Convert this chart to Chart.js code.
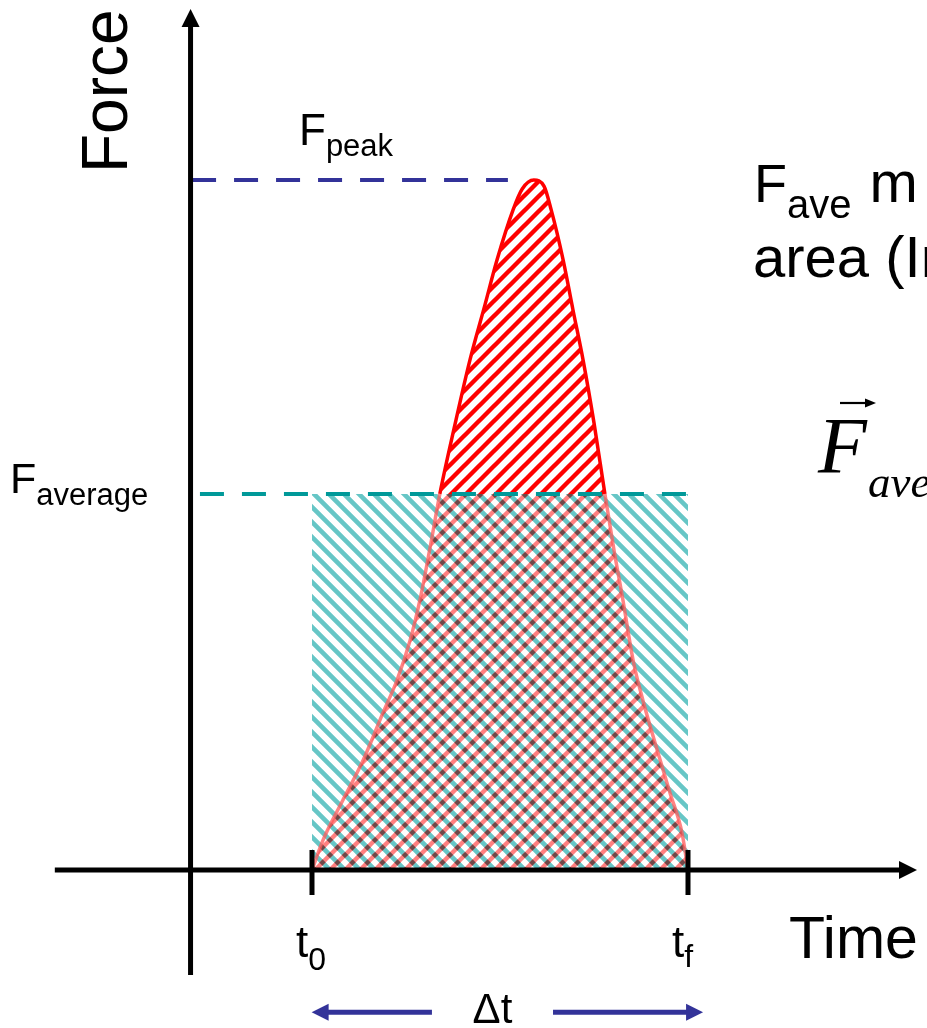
<!DOCTYPE html>
<html>
<head>
<meta charset="utf-8">
<script src="https://cdn.jsdelivr.net/npm/chart.js@4/dist/chart.umd.min.js"></script>
<style>
html,body{margin:0;padding:0;background:#fff;overflow:hidden;}
canvas{display:block;}
</style>
</head>
<body>
<canvas id="c" width="927" height="1028"></canvas>
<script>
// ---- data (time units: t0 = 0, tf = 10; force units: Fpeak = 10) ----
const t0 = 0;
const tf = 10;
const Fpeak = 10;
const Favg = 5.45;
const curveT = [0, 0.29, 0.82, 1.36, 1.89, 2.26, 2.61, 2.87, 3.14, 3.40, 3.80, 4.20, 4.60, 4.92, 5.35, 5.59, 5.90, 6.17, 6.36, 6.68, 6.94, 7.21, 7.50, 7.79, 8.03, 8.27, 8.54, 8.80, 9.18, 9.52, 9.84, 10];
const curveF = [0, 0.43, 1.01, 1.59, 2.28, 2.75, 3.33, 3.91, 4.67, 5.45, 6.45, 7.39, 8.19, 8.84, 9.57, 9.87, 10.0, 9.91, 9.57, 8.84, 8.12, 7.39, 6.48, 5.45, 4.64, 3.91, 3.04, 2.46, 1.74, 1.12, 0.54, 0];
const tickTimes = [t0, tf];
const tickLabels = ['t', 't'];
const tickSubs = ['0', 'f'];
const peakLineT = [-3.19, 5.21];
const avgLineT = [-2.98, 10.05];
const xAxisT = [-6.84, 16.09];
const yAxisT = -3.23;
const yAxisF = [-1.52, 12.48];
const dtArrowLeft = [3.19, -0.01];
const dtArrowRight = [6.41, 10.4];
const dtArrowF = -2.06;

// ---- hatch patterns ----
const S = 15;
function stripes(ctx, dir, color, w) {
  ctx.strokeStyle = color; ctx.lineWidth = w; ctx.lineCap = 'butt';
  ctx.beginPath();
  for (let k = -1; k <= 2; k++) {
    if (dir === 'b') { ctx.moveTo(-S, k * S - S); ctx.lineTo(2 * S, k * S + 2 * S); }
    else { ctx.moveTo(-S, k * S + S); ctx.lineTo(2 * S, k * S - 2 * S); }
  }
  ctx.stroke();
}
function tile() { const c = document.createElement('canvas'); c.width = S; c.height = S; return c; }
const main = document.getElementById('c').getContext('2d');
const tR = tile(); { const g = tR.getContext('2d'); g.fillStyle = '#fff'; g.fillRect(0,0,S,S); stripes(g, 'f', '#ff0000', 4.4); }
const tC = tile(); { const g = tC.getContext('2d'); g.fillStyle = '#fff'; g.fillRect(0,0,S,S); stripes(g, 'b', '#66c6c6', 4.6); }
const tX = tile(); {
  const g = tX.getContext('2d'); g.fillStyle = '#fff'; g.fillRect(0,0,S,S);
  stripes(g, 'b', '#66c6c6', 4.6);
  stripes(g, 'f', '#ff8080', 4.4);
  const d = tile(); const h = d.getContext('2d');
  stripes(h, 'b', '#000', 4.6);
  h.globalCompositeOperation = 'source-in';
  stripes(h, 'f', '#6e4848', 4.4);
  g.drawImage(d, 0, 0);
}
const redPat = main.createPattern(tR, 'repeat');
const cyanPat = main.createPattern(tC, 'repeat');
const crossPat = main.createPattern(tX, 'repeat');

const curveData = curveT.map((t, i) => ({x: t, y: curveF[i]}));

function arrowHead(ctx, x, y, dx, dy, len, half) {
  const L = Math.hypot(dx, dy); const ux = dx / L, uy = dy / L;
  ctx.beginPath();
  ctx.moveTo(x, y);
  ctx.lineTo(x - ux * len - uy * half, y - uy * len + ux * half);
  ctx.lineTo(x - ux * len + uy * half, y - uy * len - ux * half);
  ctx.closePath(); ctx.fill();
}
function subText(ctx, x, y, mainTxt, mainFont, sub, subFont, subY) {
  ctx.font = mainFont; ctx.fillText(mainTxt, x, y);
  const w = ctx.measureText(mainTxt).width;
  ctx.font = subFont; ctx.fillText(sub, x + w, subY);
  return x + w + ctx.measureText(sub).width;
}

const decor = {
  id: 'decor',
  afterDatasetsDraw(chart) {
    const ctx = chart.ctx, X = chart.scales.x, Y = chart.scales.y;
    const px = v => X.getPixelForValue(v), py = v => Y.getPixelForValue(v);
    ctx.save();
    ctx.fillStyle = '#000'; ctx.strokeStyle = '#000'; ctx.lineWidth = 5; ctx.lineCap = 'butt';
    const yx = px(yAxisT);
    ctx.beginPath(); ctx.moveTo(yx, py(yAxisF[0])); ctx.lineTo(yx, py(yAxisF[1]) + 16); ctx.stroke();
    arrowHead(ctx, yx, py(yAxisF[1]), 0, -1, 18, 9);
    const xy = py(0);
    ctx.beginPath(); ctx.moveTo(px(xAxisT[0]), xy); ctx.lineTo(px(xAxisT[1]) - 16, xy); ctx.stroke();
    arrowHead(ctx, px(xAxisT[1]), xy, 1, 0, 18, 9);
    tickTimes.forEach(t => {
      ctx.beginPath(); ctx.moveTo(px(t), xy - 20); ctx.lineTo(px(t), xy + 25); ctx.stroke();
    });
    ctx.strokeStyle = '#333399'; ctx.fillStyle = '#333399'; ctx.lineWidth = 5;
    const ay = py(dtArrowF);
    [dtArrowLeft, dtArrowRight].forEach(a => {
      const x1 = px(a[0]), x2 = px(a[1]); const dir = Math.sign(x2 - x1);
      ctx.beginPath(); ctx.moveTo(x1, ay); ctx.lineTo(x2 - dir * 15, ay); ctx.stroke();
      arrowHead(ctx, x2, ay, dir, 0, 17, 8.5);
    });
    ctx.restore();
  },
  afterDraw(chart) {
    const ctx = chart.ctx, X = chart.scales.x, Y = chart.scales.y;
    const px = v => X.getPixelForValue(v), py = v => Y.getPixelForValue(v);
    ctx.save();
    ctx.fillStyle = '#000'; ctx.textAlign = 'left'; ctx.textBaseline = 'alphabetic';
    const sans = '"Liberation Sans", Arial, sans-serif';
    ctx.save(); ctx.translate(127, 173); ctx.rotate(-Math.PI / 2);
    ctx.font = '64px ' + sans; ctx.fillText('Force', 0, 0); ctx.restore();
    ctx.font = '59px ' + sans; ctx.fillText('Time', 789, 958);
    subText(ctx, 299, py(Fpeak) - 35, 'F', '44px ' + sans, 'peak', '31px ' + sans, py(Fpeak) - 24);
    subText(ctx, 10, py(Favg) - 1, 'F', '43px ' + sans, 'average', '31px ' + sans, py(Favg) + 11);
    tickTimes.forEach((t, i) => {
      const x = px(t) - 16;
      subText(ctx, x, 957, tickLabels[i], '44px ' + sans, tickSubs[i], '32px ' + sans, i === 0 ? 970 : 967);
    });
    ctx.font = '42px ' + sans; ctx.textAlign = 'center';
    ctx.fillText('\u0394t', (px(dtArrowLeft[0]) + px(dtArrowRight[0])) / 2, 1023);
    ctx.textAlign = 'left';
    let x = subText(ctx, 754, 202, 'F', '54px ' + sans, 'ave', '40px ' + sans, 218);
    ctx.font = '58px ' + sans; ctx.fillText(' m  \u00d7 \u0394t = area', x + 2, 202);
    ctx.fillText('area (Impulse)', 753, 277);
    const serif = '"Liberation Serif", "Times New Roman", serif';
    ctx.font = 'italic 80px ' + serif; ctx.fillText('F', 818, 473);
    ctx.font = 'italic 45px ' + serif; ctx.fillText('ave', 868, 497);
    ctx.strokeStyle = '#000'; ctx.lineWidth = 2.2;
    ctx.beginPath(); ctx.moveTo(840, 403); ctx.lineTo(868, 403); ctx.stroke();
    arrowHead(ctx, 876, 403, 1, 0, 11, 4.5);
    ctx.restore();
  }
};

new Chart(document.getElementById('c'), {
  type: 'line',
  data: {
    datasets: [
      { label: 'avg', data: avgLineT.map(t => ({x: t, y: Favg})), borderColor: '#009999', borderWidth: 4, borderDash: [24, 18], pointRadius: 0, fill: false, borderCapStyle: 'butt' },
      { label: 'peak', data: peakLineT.map(t => ({x: t, y: Fpeak})), borderColor: '#333399', borderWidth: 4, borderDash: [24, 18], pointRadius: 0, fill: false, borderCapStyle: 'butt' },
      { label: 'force', data: curveData, cubicInterpolationMode: 'monotone', borderWidth: 3.5, pointRadius: 0,
        borderColor: '#ff0000',
        segment: { borderColor: c => (c.p0.parsed.y >= Favg - 1e-6 && c.p1.parsed.y >= Favg - 1e-6) ? '#ff0000' : 'rgba(255,90,90,0.75)' },
        fill: { target: { value: Favg }, above: redPat, below: cyanPat } },
      { label: 'rect', data: [{x: t0, y: Favg}, {x: tf, y: Favg}], borderWidth: 0, pointRadius: 0, fill: 'origin', backgroundColor: crossPat, borderColor: 'rgba(0,0,0,0)' }
    ]
  },
  options: {
    responsive: false, animation: false, events: [],
    layout: { padding: 0 },
    plugins: { legend: { display: false }, tooltip: { enabled: false } },
    scales: {
      x: { type: 'linear', display: false, min: -8.2979, max: 16.3564 },
      y: { type: 'linear', display: false, min: -2.2899, max: 12.6087 }
    }
  },
  plugins: [decor]
});
</script>
</body>
</html>
